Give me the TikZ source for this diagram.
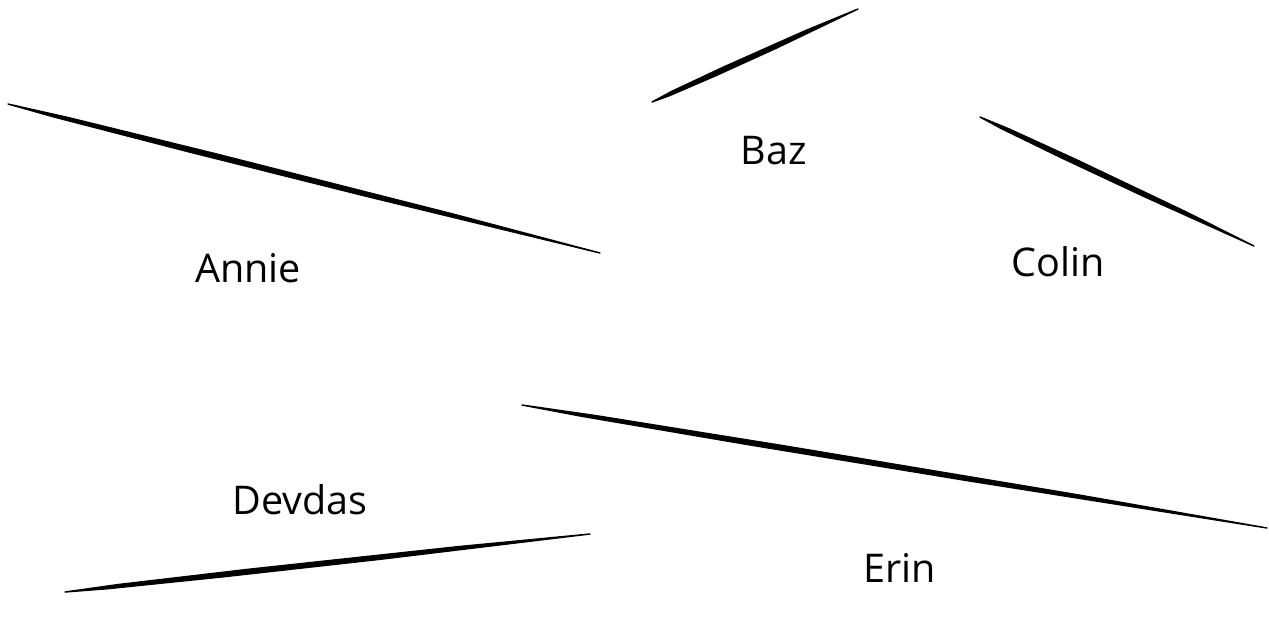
\documentclass[tikz,border=0pt]{standalone}
\usepackage{fontspec}
\setmainfont{Open Sans}
\usetikzlibrary{calc}
\tikzset{
  name label/.style={font=\fontsize{22.5}{26}\selectfont, inner sep=0pt},
  ink/.style={fill=black, draw=black, line width=0.8pt, line join=round}
}
% a hand drawn stroke between two named points
\newcommand{\inkstroke}[2]{%
  \path[ink] (#1) -- ($(#1)!0.1!(#2)!0.9pt!90:(#2)$) -- ($(#1)!0.35!(#2)!1.4pt!90:(#2)$) -- ($(#1)!0.75!(#2)!1.1pt!90:(#2)$) -- (#2)
    -- ($(#1)!0.6!(#2)!1.2pt!-90:(#2)$) -- ($(#1)!0.3!(#2)!1.3pt!-90:(#2)$) -- ($(#1)!0.08!(#2)!0.8pt!-90:(#2)$) -- cycle;%
}
\begin{document}
\begin{tikzpicture}[x=0.02cm, y=-0.02cm]
\useasboundingbox (0,0) rectangle (1269,623);

% Annie
\coordinate (annieA) at (8,104);
\coordinate (annieB) at (600,253);
\inkstroke{annieA}{annieB}
\node[name label] (annie) at (248,268) {Annie};

% Baz
\coordinate (bazA) at (652,102);
\coordinate (bazB) at (858,9);
\inkstroke{bazA}{bazB}
\node[name label] (baz) at (774,151) {Baz};

% Colin
\coordinate (colinA) at (980,117);
\coordinate (colinB) at (1254,246);
\inkstroke{colinA}{colinB}
\node[name label] (colin) at (1058,262) {Colin};

% Devdas
\coordinate (devdasA) at (65,592);
\coordinate (devdasB) at (590,534);
\inkstroke{devdasA}{devdasB}
\node[name label] (devdas) at (300,500) {Devdas};

% Erin
\coordinate (erinA) at (522,405);
\coordinate (erinB) at (1267,528);
\inkstroke{erinA}{erinB}
\node[name label] (erin) at (900,568) {Erin};

\end{tikzpicture}
\end{document}
